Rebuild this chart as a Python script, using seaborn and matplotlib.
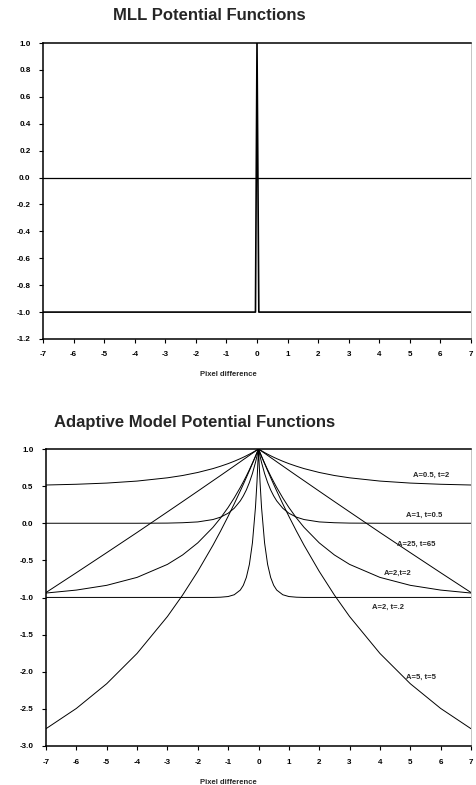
import matplotlib
matplotlib.use("Agg")
import matplotlib.pyplot as plt
import seaborn as sns
import pandas as pd

# ---------------- data ----------------
# MLL potential function (top panel)
mll_x = [-7, -0.05, 0, 0.06, 7]
mll_y = [-1.0, -1.0, 1.0, -1.0, -1.0]

# Adaptive model potential functions (bottom panel), values read at |x|
abs_x = [7, 6, 5, 4, 3, 2.5, 2, 1.5, 1.25, 1, 0.8, 0.6, 0.5, 0.4, 0.3, 0.2, 0.1, 0.05, 0]
y_a05_t2 = [0.515, 0.525, 0.541, 0.568, 0.612, 0.643, 0.684, 0.736, 0.768, 0.803,
            0.835, 0.870, 0.889, 0.909, 0.930, 0.952, 0.976, 0.988, 1.0]
y_a1_t05 = [0.0, 0.0, 0.0, 0.0, 0.002, 0.007, 0.018, 0.050, 0.082, 0.135,
            0.202, 0.301, 0.368, 0.449, 0.549, 0.670, 0.819, 0.905, 1.0]
y_a25_t65 = [-0.933, -0.666, -0.396, -0.124, 0.153, 0.292, 0.432, 0.573, 0.643, 0.714,
             0.771, 0.828, 0.857, 0.885, 0.914, 0.943, 0.971, 0.986, 1.0]
y_a2_t2 = [-0.940, -0.900, -0.836, -0.729, -0.554, -0.427, -0.264, -0.055, 0.071, 0.213,
           0.341, 0.482, 0.558, 0.637, 0.721, 0.810, 0.902, 0.951, 1.0]
y_a2_t02 = [-0.999, -0.999, -0.999, -0.999, -0.999, -0.999, -0.999, -0.999, -0.996, -0.987,
            -0.963, -0.900, -0.836, -0.729, -0.554, -0.264, 0.213, 0.558, 1.0]
y_a5_t5 = [-2.767, -2.494, -2.161, -1.753, -1.256, -0.967, -0.648, -0.296, -0.106, 0.094,
           0.261, 0.435, 0.524, 0.616, 0.709, 0.804, 0.901, 0.950, 1.0]

curve_names = ["A=0.5, t=2", "A=1, t=0.5", "A=25, t=65", "A=2,t=2", "A=2, t=.2", "A=5, t=5"]
curve_vals = [y_a05_t2, y_a1_t05, y_a25_t65, y_a2_t2, y_a2_t02, y_a5_t5]
label_x = [5.7, 5.45, 5.2, 4.6, 4.25, 5.35]
label_y = [0.65, 0.11, -0.29, -0.67, -1.13, -2.07]

top_yticks = [1.0, 0.8, 0.6, 0.4, 0.2, 0.0, -0.2, -0.4, -0.6, -0.8, -1.0, -1.2]
bot_yticks = [1.0, 0.5, 0.0, -0.5, -1.0, -1.5, -2.0, -2.5, -3.0]
xticks = list(range(-7, 8))

# ---------------- style ----------------
sns.set_style("ticks")
plt.rcParams["font.family"] = ["Liberation Sans", "DejaVu Sans"]
plt.rcParams["axes.unicode_minus"] = False

full_x = [-v for v in abs_x] + abs_x[-2::-1]
rows = []
for name, vals in zip(curve_names, curve_vals):
    full_y = vals + vals[-2::-1]
    for xx, yy in zip(full_x, full_y):
        rows.append({"x": xx, "y": yy, "curve": name})
df = pd.DataFrame(rows)

fig = plt.figure(figsize=(4.76, 7.85), dpi=100)
ax1 = fig.add_axes([43 / 476, 1 - 339 / 785, 428 / 476, 296 / 785])
ax2 = fig.add_axes([46 / 476, 1 - 746 / 785, 425 / 476, 297 / 785])


def style_axis(ax, yticks, ylim):
    ax.set_xlim(-7, 7)
    ax.set_ylim(*ylim)
    ax.set_xticks(xticks)
    ax.set_xticklabels([str(t) for t in xticks])
    ax.set_yticks(yticks)
    ax.set_yticklabels([f"{t:.1f}" for t in yticks])
    ax.tick_params(axis="both", direction="out", length=3, width=0.8,
                   labelsize=5.8, pad=6, colors="black")
    for lab in ax.get_xticklabels() + ax.get_yticklabels():
        lab.set_fontweight("bold")
    for side in ["left", "bottom", "top"]:
        ax.spines[side].set_visible(True)
        ax.spines[side].set_color("black")
        ax.spines[side].set_linewidth(1.1)
    ax.spines["right"].set_visible(True)
    ax.spines["right"].set_color("#bbbbbb")
    ax.spines["right"].set_linewidth(0.6)
    ax.set_xlabel("")
    ax.set_ylabel("")
    ax.grid(False)


# top panel
ax1.axhline(0, color="black", lw=0.9)
sns.lineplot(x=mll_x, y=mll_y, ax=ax1, color="black", lw=1.2, sort=False)
style_axis(ax1, top_yticks, (-1.2, 1.0))

# bottom panel
sns.lineplot(data=df, x="x", y="y", units="curve", estimator=None, ax=ax2,
             color="black", lw=0.7, sort=False)
style_axis(ax2, bot_yticks, (-3.0, 1.0))
for name, lx, ly in zip(curve_names, label_x, label_y):
    ax2.text(lx, ly, name, fontsize=5.5, fontweight="bold", ha="center", va="center")

# titles and axis labels
fig.text(209 / 476, 1 - 15 / 785, "MLL Potential Functions", fontsize=12,
         fontweight="bold", ha="center", va="center")
fig.text(195 / 476, 1 - 423 / 785, "Adaptive Model Potential Functions", fontsize=12,
         fontweight="bold", ha="center", va="center")
fig.text(228 / 476, 1 - 375 / 785, "Pixel difference", fontsize=5.5,
         fontweight="bold", ha="center", va="center")
fig.text(228 / 476, 1 - 782 / 785, "Pixel difference", fontsize=5.5,
         fontweight="bold", ha="center", va="center")

fig.savefig("out.png", dpi=100)
